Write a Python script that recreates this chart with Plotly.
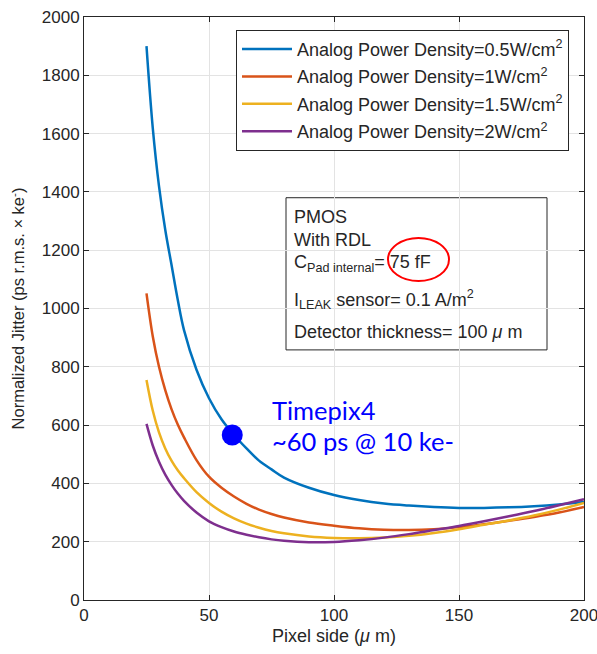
import plotly.graph_objects as go

pixel_side = [25, 27.5, 30, 32.5, 35, 37.5, 40, 45, 50, 55, 60, 65, 70, 75, 80, 90, 100,
              110, 120, 130, 140, 150, 160, 170, 180, 190, 200]

jitter_05 = [1900, 1620, 1420, 1270, 1150, 1030, 926, 790, 692, 620, 566, 520, 478, 448, 420,
             385, 360, 343, 331, 324, 319, 316, 316, 318, 322, 328, 336]
jitter_1 = [1052, 905, 800, 720, 655, 602, 558, 480, 423, 385, 355, 330, 310, 295, 283,
            266, 255, 246, 241, 240, 243, 250, 260, 272, 285, 300, 319]
jitter_15 = [755, 650, 575, 520, 478, 445, 418, 370, 333, 303, 280, 262, 248, 237, 229,
             218, 213, 212, 214, 220, 230, 243, 258, 273, 290, 310, 333]
jitter_2 = [604, 530, 474, 430, 395, 365, 340, 300, 270, 250, 235, 224, 215, 208, 203,
            198, 199, 205, 214, 226, 240, 254, 270, 287, 305, 325, 346]

series_names = ["Analog Power Density=0.5W/cm<sup>2</sup>",
                "Analog Power Density=1W/cm<sup>2</sup>",
                "Analog Power Density=1.5W/cm<sup>2</sup>",
                "Analog Power Density=2W/cm<sup>2</sup>"]
series_values = [jitter_05, jitter_1, jitter_15, jitter_2]
series_colors = ["#0072BD", "#D95319", "#EDB120", "#7E2F8E"]

timepix_x = [59.3]
timepix_y = [566]

x_ticks = [0, 50, 100, 150, 200]
y_ticks = [0, 200, 400, 600, 800, 1000, 1200, 1400, 1600, 1800, 2000]

FONT = "Liberation Sans, Arial, sans-serif"
TXT = "#262626"

fig = go.Figure()
for i, (name, vals, col) in enumerate(zip(series_names, series_values, series_colors)):
    fig.add_trace(go.Scatter(x=pixel_side, y=vals, mode="lines", name=name,
                             legendgroup=f"g{i}",
                             line=dict(color=col, width=2.5, shape="spline", smoothing=1)))

fig.add_trace(go.Scatter(x=timepix_x, y=timepix_y, mode="markers", showlegend=False,
                         marker=dict(color="#0000FF", size=21)))

axis_common = dict(showline=True, linecolor=TXT, linewidth=1, mirror="ticks",
                   ticks="inside", ticklen=5, tickcolor=TXT, showgrid=True,
                   gridcolor="#e3e3e3", gridwidth=1, zeroline=False, automargin=False,
                   ticklabeloverflow="allow",
                   tickfont=dict(family=FONT, size=17, color=TXT))

fig.update_xaxes(range=[0, 200], tickvals=x_ticks,
                 title=dict(text="Pixel side (<i>μ</i> m)", font=dict(family=FONT, size=18, color=TXT),
                            standoff=4),
                 **axis_common)
fig.update_yaxes(range=[0, 2000], tickvals=y_ticks,
                 title=dict(text="Normalized Jitter (ps r.m.s. × ke<sup>-</sup>)",
                            font=dict(family=FONT, size=16.5, color=TXT), standoff=12),
                 **axis_common)

# Info box
fig.add_shape(type="rect", xref="paper", yref="paper", x0=0.404, x1=0.926, y0=0.429, y1=0.690,
              line=dict(color=TXT, width=1), fillcolor="white", layer="below")
box_lines = ["PMOS", "With RDL",
             "C<sub>Pad internal</sub>= 75 fF",
             "I<sub>LEAK</sub> sensor= 0.1 A/m<sup>2</sup>",
             "Detector thickness= 100 <i>μ</i> m"]
box_y = [1315, 1235, 1155, 1030, 920]
for t, yy in zip(box_lines, box_y):
    fig.add_annotation(x=0.416, xref="paper", y=yy, yref="y", text=t, showarrow=False,
                       xanchor="left", yanchor="middle",
                       font=dict(family=FONT, size=18, color=TXT))

# red ellipse
fig.add_shape(type="circle", xref="x", yref="y", x0=121.6, x1=146, y0=1094, y1=1242,
              line=dict(color="#FF0000", width=2))

fig.add_annotation(x=74.4, y=652, xref="x", yref="y", text="Timepix4", showarrow=False,
                   xanchor="left", yanchor="middle",
                   font=dict(family="Lato, sans-serif", size=25.5, color="#0000FF"))
fig.add_annotation(x=74.4, y=545, xref="x", yref="y", text="~60 ps @ 10 ke-", showarrow=False,
                   xanchor="left", yanchor="middle",
                   font=dict(family="Lato, sans-serif", size=25.5, color="#0000FF"))

fig.update_layout(
    width=597, height=654,
    margin=dict(l=84, r=13, t=17, b=54),
    paper_bgcolor="white", plot_bgcolor="white",
    font=dict(family=FONT, color=TXT),
    legend=dict(x=0.304, y=0.978, xanchor="left", yanchor="top",
                bordercolor=TXT, borderwidth=1, bgcolor="white", itemwidth=50,
                font=dict(family=FONT, size=18, color=TXT), tracegroupgap=1),
)

fig.write_html("out.html")
